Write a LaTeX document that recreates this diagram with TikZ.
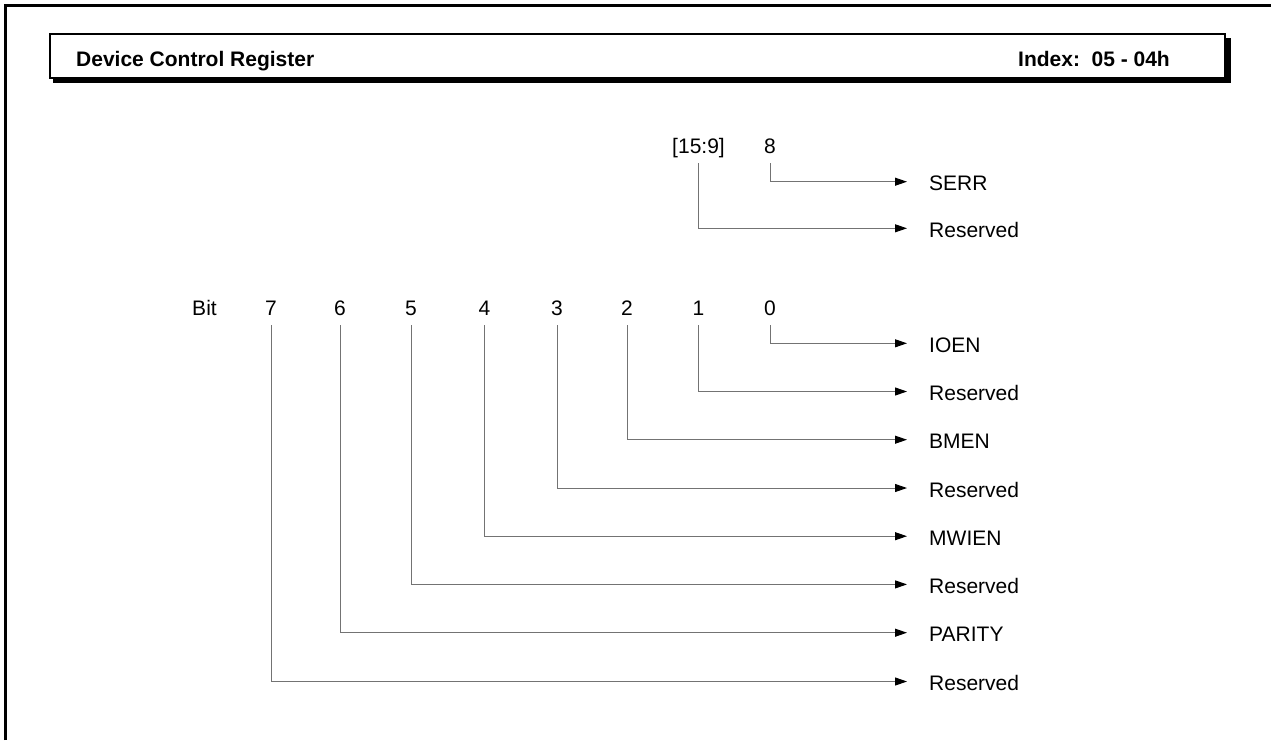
\documentclass[tikz,border=0pt]{standalone}
\usepackage{fontspec}
\setmainfont{Liberation Sans}
\usetikzlibrary{arrows.meta}
\begin{document}
\begin{tikzpicture}[x=1pt,y=-1pt,
  bitlbl/.style={inner sep=0pt, text depth=0pt, anchor=base, font=\fontsize{21}{25}\selectfont},
  fieldlbl/.style={inner sep=0pt, text height=18pt, text depth=0pt, anchor=west, font=\fontsize{21}{25}\selectfont},
  conn/.style={draw=black!55, line width=1pt, shorten <=10pt, shorten >=22pt,
    -{Triangle[length=12pt 0,width=8pt 0,fill=black,color=black]}},
  hdrtext/.style={inner sep=0pt, font=\fontsize{21}{25}\selectfont\bfseries}
]
\useasboundingbox (0,0) rectangle (1271,740);
% outer frame (top and left edges)
\draw[line width=3pt] (5.5,740) -- (5.5,5.5) -- (1271,5.5);
% header box with shadow
\fill[black] (53,38) rectangle (1230.5,83);
\draw[line width=2pt, fill=white] (50,34) rectangle (1224.5,78);
\node[hdrtext, anchor=base west] (title) at (76,66) {Device Control Register};
\node[hdrtext, anchor=base east] (index) at (1170,66) {Index:\hspace{0.55em}05 - 04h};
% upper byte labels
\node[bitlbl] (bhi) at (698.5,153) {[15:9]};
\node[bitlbl] (b8) at (770,153) {8};
% lower byte labels
\node[bitlbl] (bit) at (204.5,315) {Bit};
\node[bitlbl] (b7) at (271,315) {7};
\node[bitlbl] (b6) at (340,315) {6};
\node[bitlbl] (b5) at (411,315) {5};
\node[bitlbl] (b4) at (484.5,315) {4};
\node[bitlbl] (b3) at (557,315) {3};
\node[bitlbl] (b2) at (627,315) {2};
\node[bitlbl] (b1) at (698.5,315) {1};
\node[bitlbl] (b0) at (770,315) {0};
% field labels
\node[fieldlbl] (t8) at (929,181.7) {SERR};
\node[fieldlbl] (thi) at (929,228.3) {Reserved};
\node[fieldlbl] (t0) at (929,343.3) {IOEN};
\node[fieldlbl] (t1) at (929,391.5) {Reserved};
\node[fieldlbl] (t2) at (929,439.7) {BMEN};
\node[fieldlbl] (t3) at (929,488) {Reserved};
\node[fieldlbl] (t4) at (929,536.2) {MWIEN};
\node[fieldlbl] (t5) at (929,584.4) {Reserved};
\node[fieldlbl] (t6) at (929,632.7) {PARITY};
\node[fieldlbl] (t7) at (929,681.5) {Reserved};
% connectors
\draw[conn] (b8.south) |- (t8.west);
\draw[conn] (bhi.south) |- (thi.west);
\draw[conn] (b0.south) |- (t0.west);
\draw[conn] (b1.south) |- (t1.west);
\draw[conn] (b2.south) |- (t2.west);
\draw[conn] (b3.south) |- (t3.west);
\draw[conn] (b4.south) |- (t4.west);
\draw[conn] (b5.south) |- (t5.west);
\draw[conn] (b6.south) |- (t6.west);
\draw[conn] (b7.south) |- (t7.west);
\end{tikzpicture}
\end{document}
